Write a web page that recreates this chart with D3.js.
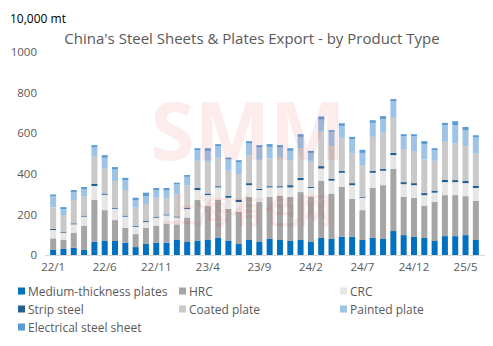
<!DOCTYPE html>
<html>
<head>
<meta charset="utf-8">
<script src="https://cdn.jsdelivr.net/npm/d3@7"></script>
<style>
  body { margin: 0; background: #fff; }
  text { font-family: "Open Sans", "Noto Sans", sans-serif; }
</style>
</head>
<body>
<div id="chart"></div>
<script>
// months 22/1 .. 25/6
var months = [];
for (var y = 22; y <= 25; y++) {
  for (var m = 1; m <= 12; m++) {
    if (y == 25 && m > 6) break;
    months.push(y + "/" + m);
  }
}
var tickLabels = ["22/1", "22/6", "22/11", "23/4", "23/9", "24/2", "24/7", "24/12", "25/5"];

var seriesNames = ["Medium-thickness plates", "HRC", "CRC", "Strip steel", "Coated plate", "Painted plate", "Electrical steel sheet"];
var seriesColors = ["#0070C0", "#A5A5A5", "#E7E6E6", "#255E91", "#C9C9C9", "#9DC3E6", "#5B9BD5"];

var medium = [25, 30, 36, 25, 66, 69, 69, 61, 39, 54, 61, 61, 74, 64, 69, 74, 84, 69, 54, 74, 64,
  79, 74, 69, 74, 64, 84, 79, 90, 90, 74, 84, 79, 118, 98, 89, 84, 69, 93, 93, 98, 74];
var hrc = [57, 44, 74, 119, 205, 152, 103, 72, 64, 79, 83, 92, 77, 121, 202, 167, 187, 159, 158, 213, 197,
  208, 218, 218, 236, 223, 282, 224, 246, 187, 147, 246, 265, 307, 189, 193, 159, 193, 202, 202, 192, 192];
var crc = [41, 36, 41, 45, 69, 76, 56, 56, 36, 29, 40, 42, 34, 41, 49, 54, 62, 54, 49, 57, 59,
  46, 41, 46, 59, 43, 60, 63, 69, 67, 61, 75, 71, 67, 62, 62, 52, 45, 64, 64, 64, 64];
var strip = [5, 5, 5, 5, 11, 6, 5, 5, 5, 5, 5, 5, 5, 5, 10, 8, 6, 10, 10, 10, 6,
  6, 6, 11, 11, 6, 12, 10, 10, 10, 5, 10, 10, 11, 10, 10, 10, 10, 12, 10, 12, 11];
var coated = [107, 82, 115, 96, 133, 122, 131, 126, 89, 84, 93, 80, 108, 113, 134, 156, 140, 123, 128, 138, 143,
  137, 140, 123, 145, 123, 169, 160, 162, 146, 156, 167, 177, 173, 163, 158, 166, 147, 187, 182, 170, 161];
var painted = [55, 29, 37, 33, 46, 54, 57, 49, 38, 39, 38, 40, 50, 41, 53, 54, 57, 56, 59, 57, 61,
  57, 51, 46, 57, 44, 60, 71, 59, 71, 60, 69, 67, 82, 63, 73, 75, 53, 82, 89, 79, 77];
var electrical = [8, 10, 12, 12, 11, 13, 12, 11, 11, 17, 10, 10, 8, 9, 9, 13, 10, 9, 9, 12, 11,
  13, 11, 13, 13, 10, 15, 8, 13, 11, 15, 13, 15, 10, 10, 10, 15, 9, 11, 19, 16, 11];

var seriesValues = [medium, hrc, crc, strip, coated, painted, electrical];

var W = 493, H = 346;
var svg = d3.select("#chart").append("svg")
  .attr("width", W).attr("height", H);

var x = d3.scaleBand().domain(months).range([48, 481]).paddingInner(0.42).paddingOuter(0.21);
var yS = d3.scaleLinear().domain([0, 1000]).range([255, 52]);

// stacked data
var table = months.map(function(mo, i) {
  var row = { month: mo };
  seriesNames.forEach(function(s, k) { row[s] = seriesValues[k][i]; });
  return row;
});
var stacked = d3.stack().keys(seriesNames)(table);

svg.append("g").selectAll("g").data(stacked).join("g")
  .attr("fill", function(d, k) { return seriesColors[k]; })
  .selectAll("rect").data(function(d) { return d; }).join("rect")
  .attr("x", function(d) { return x(d.data.month); })
  .attr("y", function(d) { return yS(d[1]); })
  .attr("width", x.bandwidth())
  .attr("height", function(d) { return yS(d[0]) - yS(d[1]); });

// faint watermark, drawn over the bars
var wm = svg.append("g").attr("opacity", 0.07);
wm.append("text").attr("x", 248).attr("y", 160).attr("text-anchor", "middle")
  .attr("font-size", 80).attr("font-weight", "bold").attr("fill", "#e00000")
  .attr("font-family", "DejaVu Sans").text("SMM");
wm.append("text").attr("x", 248).attr("y", 222).attr("text-anchor", "middle")
  .attr("font-size", 34).attr("font-weight", "bold").attr("fill", "#e00000")
  .attr("font-family", "Noto Sans CJK SC").text("上海有色网");

// baseline
svg.append("line").attr("x1", 45).attr("x2", 485).attr("y1", 255.5).attr("y2", 255.5)
  .attr("stroke", "#D9D9D9").attr("stroke-width", 1);

// y axis
var yAxis = d3.axisLeft(yS).tickValues([0, 200, 400, 600, 800, 1000])
  .tickFormat(d3.format("d")).tickSize(0).tickPadding(0);
var gy = svg.append("g").attr("transform", "translate(37,0)").call(yAxis);
gy.select(".domain").remove();
gy.selectAll("text").attr("font-size", 11.5).attr("fill", "#595959")
  .attr("font-family", "Open Sans, sans-serif");

// x axis
var xAxis = d3.axisBottom(x).tickValues(tickLabels).tickSize(0).tickPadding(0);
var gx = svg.append("g").attr("transform", "translate(0,263)").call(xAxis);
gx.select(".domain").remove();
gx.selectAll("text").attr("font-size", 11.5).attr("fill", "#595959")
  .attr("font-family", "Open Sans, sans-serif");

// unit + title
svg.append("text").attr("x", 10).attr("y", 23).attr("font-size", 12)
  .attr("fill", "#000").text("10,000 mt");
svg.append("text").attr("x", 252).attr("y", 44).attr("text-anchor", "middle")
  .attr("font-size", 15).attr("fill", "#595959")
  .text("China's Steel Sheets & Plates Export - by Product Type");

// legend
var legendX = [18, 179, 340];
var legendY = [291, 309, 327];
var lg = svg.append("g").selectAll("g").data(seriesNames).join("g")
  .attr("transform", function(d, i) {
    return "translate(" + legendX[i % 3] + "," + legendY[Math.floor(i / 3)] + ")";
  });
lg.append("rect").attr("x", 0).attr("y", -3.5).attr("width", 7).attr("height", 7)
  .attr("fill", function(d, i) { return seriesColors[i]; });
lg.append("text").attr("x", 10).attr("y", 4.5).attr("font-size", 12)
  .attr("fill", "#595959").text(function(d) { return d; });
</script>
</body>
</html>
